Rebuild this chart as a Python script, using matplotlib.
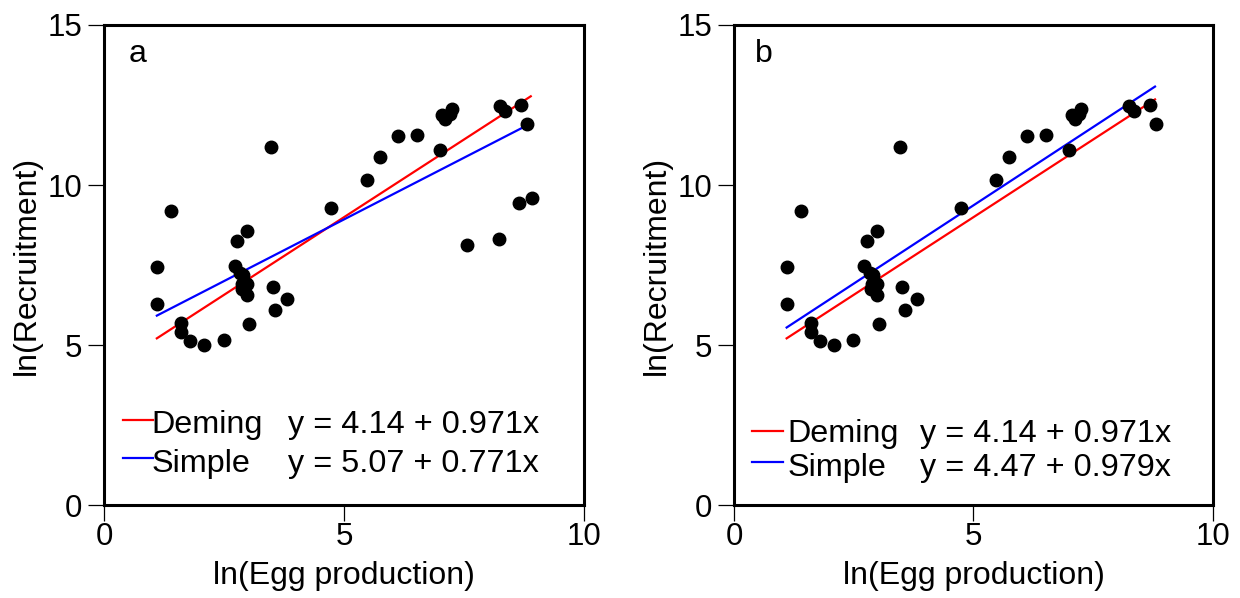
import matplotlib
matplotlib.use('Agg')
import matplotlib.pyplot as plt

plt.rcParams['font.family'] = ['Liberation Sans', 'DejaVu Sans']

# ln(egg production), ln(recruitment)
egg = [1.10, 1.10, 1.39, 1.61, 1.61, 1.79, 2.08, 2.49, 2.72, 2.77,
       2.98, 2.83, 2.90, 2.88, 2.98, 2.87, 2.98, 3.02, 3.47, 3.51,
       3.57, 3.82, 4.73, 5.48, 5.74, 6.12, 6.52, 6.99, 7.05, 7.11,
       7.20, 7.24, 7.57, 8.22, 8.25, 8.35, 8.65, 8.69, 8.81, 8.91]
recruit = [7.45, 6.27, 9.18, 5.69, 5.40, 5.14, 5.01, 5.16, 7.48, 8.24,
           8.55, 7.24, 7.20, 6.92, 6.92, 6.76, 6.56, 5.66, 11.18, 6.81,
           6.10, 6.43, 9.29, 10.17, 10.86, 11.53, 11.57, 11.09, 12.19, 12.07,
           12.22, 12.36, 8.12, 8.30, 12.46, 12.30, 9.43, 12.51, 11.90, 9.60]
# points used in panel b (the four low outliers are dropped)
outliers = [32, 33, 36, 39]

panels = [
    {'tag': 'a', 'deming': (4.14, 0.971, 1.10, 8.89), 'simple': (5.07, 0.771, 1.10, 8.74),
     'eq_d': 'y = 4.14 + 0.971x', 'eq_s': 'y = 5.07 + 0.771x'},
    {'tag': 'b', 'deming': (4.14, 0.971, 1.10, 8.79), 'simple': (4.47, 0.979, 1.10, 8.79),
     'eq_d': 'y = 4.14 + 0.971x', 'eq_s': 'y = 4.47 + 0.979x'},
]

# legend placement (axes fraction) per panel
leg_pos = [
    {'lx': (0.039, 0.102), 'rows': (0.177, 0.0985), 'base': (0.149, 0.069), 'tx': 0.099, 'ex': 0.384},
    {'lx': (0.037, 0.102), 'rows': (0.155, 0.0898), 'base': (0.132, 0.0604), 'tx': 0.111, 'ex': 0.388},
]
axes_rect = [[0.0839, 0.1555, 0.3871, 0.8027], [0.5919, 0.1555, 0.3863, 0.8027]]

FS_TICK = 22.5
FS_LAB = 23
FS_LEG = 23.3
fig = plt.figure(figsize=(12.4, 5.98), dpi=100)

for i, p in enumerate(panels):
    ax = fig.add_axes(axes_rect[i])
    if i == 0:
        xs, ys = egg, recruit
    else:
        xs = [x for k, x in enumerate(egg) if k not in outliers]
        ys = [y for k, y in enumerate(recruit) if k not in outliers]

    for key, col in [('deming', 'red'), ('simple', 'blue')]:
        a, b, x0, x1 = p[key]
        ax.plot([x0, x1], [a + b * x0, a + b * x1], color=col, lw=1.6, zorder=2)
    ax.plot(xs, ys, 'o', color='black', markersize=9, zorder=3)

    ax.set_xlim(0, 10)
    ax.set_ylim(0, 15)
    ax.set_xticks([0, 5, 10])
    ax.set_yticks([0, 5, 10, 15])
    ax.tick_params(direction='out', length=11.5, width=0.9, labelsize=FS_TICK)
    ax.tick_params(axis='y', pad=4)
    ax.tick_params(axis='x', pad=1)
    for s in ax.spines.values():
        s.set_linewidth(2.2)
    ax.set_xlabel('ln(Egg production)', fontsize=FS_LAB, labelpad=6)
    ax.set_ylabel('ln(Recruitment)', fontsize=FS_LAB, labelpad=4)

    ax.text(0.052 if i == 0 else 0.044, 0.922, p['tag'], transform=ax.transAxes, fontsize=FS_LAB)

    lp = leg_pos[i]
    for r, (name, col, eq) in enumerate([('Deming', 'red', p['eq_d']), ('Simple', 'blue', p['eq_s'])]):
        ax.plot(lp['lx'], [lp['rows'][r]] * 2, color=col, lw=1.6, transform=ax.transAxes)
        ax.text(lp['tx'], lp['base'][r], name, transform=ax.transAxes, fontsize=FS_LEG, va='baseline')
        ax.text(lp['ex'], lp['base'][r], eq, transform=ax.transAxes, fontsize=FS_LEG, va='baseline')

fig.savefig('out.png', dpi=100)
